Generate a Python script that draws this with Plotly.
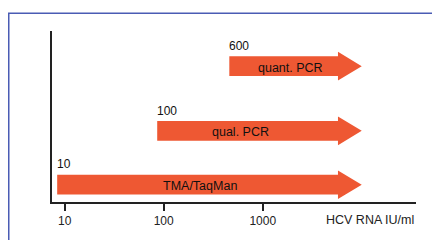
import math
import plotly.graph_objects as go

# ---- data ----
methods = ["TMA/TaqMan", "qual. PCR", "quant. PCR"]
start_labels = ["10", "100", "600"]          # labels printed above arrows
arrow_start = [8.4, 86, 460]                 # where each arrow begins (IU/ml)
arrow_end = [10000, 10000, 10000]            # arrow tips (IU/ml)
name_pos = [233, 590, 1890]                  # centre of the method name (IU/ml)
tick_values = [10, 100, 1000]
tick_labels = ["10", "100", "1000"]
axis_label = "HCV RNA IU/ml"

# ---- style / layout ----
ROW_Y = [0, 1, 2.2]
BODY_HALF = 0.1835
HEAD_HALF = 0.266
HEAD_DEC = 0.24          # head length in decades
ARROW_COLOR = "#EE5833"
TEXT_COLOR = "#111111"
FONT = "Liberation Sans, Arial, sans-serif"

fig = go.Figure()

for name, s, e, yc in zip(methods, arrow_start, arrow_end, ROW_Y):
    h = e / 10 ** HEAD_DEC
    xs = [s, h, h, e, h, h, s, s]
    ys = [yc - BODY_HALF, yc - BODY_HALF, yc - HEAD_HALF, yc,
          yc + HEAD_HALF, yc + BODY_HALF, yc + BODY_HALF, yc - BODY_HALF]
    fig.add_trace(go.Scatter(x=xs, y=ys, mode="lines", fill="toself",
                             fillcolor=ARROW_COLOR, line=dict(width=0, color=ARROW_COLOR),
                             hoverinfo="skip", showlegend=False, name=name))

annotations = []
for name, lab, s, nx, yc in zip(methods, start_labels, arrow_start, name_pos, ROW_Y):
    annotations.append(dict(x=math.log10(nx), y=yc, xref="x", yref="y", text=name,
                            showarrow=False, font=dict(size=12.5, color=TEXT_COLOR, family=FONT),
                            yshift=-1.5))
    annotations.append(dict(x=math.log10(s), y=yc + HEAD_HALF, xref="x", yref="y", text=lab,
                            showarrow=False, xanchor="left", yanchor="bottom",
                            font=dict(size=12, color=TEXT_COLOR, family=FONT),
                            xshift=-2, yshift=-3))

annotations.append(dict(x=1.0, y=-0.107, xref="paper", yref="paper", text=axis_label,
                        showarrow=False, xanchor="right", yanchor="middle",
                        font=dict(size=12.5, color="#222222", family=FONT)))

fig.update_layout(
    width=424, height=232,
    margin=dict(l=44, r=16, t=23, b=36),
    paper_bgcolor="white", plot_bgcolor="white",
    annotations=annotations,
    shapes=[dict(type="path", xref="paper", yref="paper",
                 path="M -0.1188,-0.4 L -0.1188,1.104 L 1.2,1.104",
                 line=dict(color="#4A5CB4", width=1.5), layer="below")],
    xaxis=dict(type="log", range=[0.872, 4.548], tickvals=tick_values, ticktext=tick_labels,
               showgrid=False, zeroline=False, showline=True, linecolor="#222222", linewidth=2,
               ticks="outside", ticklen=7, tickwidth=1.5, tickcolor="#222222",
               tickfont=dict(size=12, color="#222222", family=FONT)),
    yaxis=dict(range=[-0.321, 2.853], showgrid=False, zeroline=False, showline=True,
               linecolor="#222222", linewidth=2, showticklabels=False, ticks=""),
)

fig.write_html("out.html")
